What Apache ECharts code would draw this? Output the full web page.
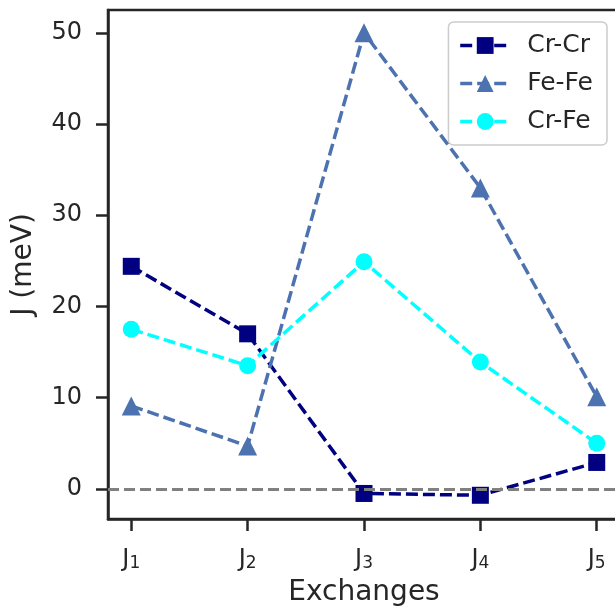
<!DOCTYPE html>
<html>
<head>
<meta charset="utf-8">
<script src="https://cdn.jsdelivr.net/npm/echarts@6/dist/echarts.min.js"></script>
<style>
  html, body { margin: 0; padding: 0; background: #fff; }
  #chart { width: 615px; height: 606px; }
</style>
</head>
<body>
<div id="chart"></div>
<script>
// Exchange couplings J1..J5 (meV)
const categories = ['1', '2', '3', '4', '5'];
const crCr = [24.4, 17.0, -0.5, -0.7, 2.9];
const feFe = [9.1, 4.7, 50.0, 33.0, 10.1];
const crFe = [17.5, 13.5, 24.9, 13.9, 5.0];
const yTicks = [0, 10, 20, 30, 40, 50];

const ink = '#262626';
const font = 'DejaVu Sans';

function pairs(values) {
  return values.map((v, i) => [i, v]);
}

function lineSeries(name, values, color, symbol, size) {
  return {
    name: name,
    type: 'line',
    data: pairs(values),
    z: 3,
    symbol: symbol,
    symbolSize: size,
    itemStyle: { color: color },
    lineStyle: { color: color, width: 3.5, type: [12, 5] },
    emphasis: { disabled: true }
  };
}

const chart = echarts.init(document.getElementById('chart'), null, { renderer: 'canvas' });
chart.setOption({
  animation: false,
  textStyle: { fontFamily: font, color: ink },
  grid: {
    left: 108, top: 10, right: -5, bottom: 87,
    outerBoundsMode: 'none',
    containLabel: false,
    show: true, borderColor: ink, borderWidth: 2.5, backgroundColor: 'transparent'
  },
  xAxis: {
    type: 'value',
    min: -0.2, max: 4.2,
    name: 'Exchanges',
    nameLocation: 'middle',
    nameGap: 60,
    nameTextStyle: { fontSize: 28, color: ink, fontFamily: font },
    splitLine: { show: false },
    axisLine: { onZero: false, lineStyle: { color: ink, width: 2.5 } },
    axisTick: { length: 12, lineStyle: { color: ink, width: 2.5 }, customValues: [0, 1, 2, 3, 4] },
    axisLabel: {
      customValues: [0, 1, 2, 3, 4],
      margin: 28,
      formatter: v => '{m|J}{s|' + categories[Math.round(v)] + '}',
      rich: {
        m: { fontSize: 24, color: ink, fontFamily: font },
        s: { fontSize: 17, color: ink, fontFamily: font, verticalAlign: 'bottom', padding: [8, 0, 0, 0] }
      }
    }
  },
  yAxis: {
    type: 'value',
    min: -3.3, max: 52.5,
    name: 'J (meV)',
    nameLocation: 'middle',
    nameGap: 70,
    nameRotate: 90,
    nameTextStyle: { fontSize: 28, color: ink, fontFamily: font },
    splitLine: { show: false },
    axisLine: { show: true, onZero: false, lineStyle: { color: ink, width: 2.5 } },
    axisTick: { show: true, length: 12, lineStyle: { color: ink, width: 2.5 }, customValues: yTicks },
    axisLabel: { customValues: yTicks, margin: 26, fontSize: 24, color: ink, fontFamily: font }
  },
  legend: {
    data: ['Cr-Cr', 'Fe-Fe', 'Cr-Fe'],
    orient: 'vertical',
    right: 8, top: 22,
    itemWidth: 50, itemHeight: 21,
    itemGap: 13,
    padding: [11, 14, 11, 10],
    borderColor: '#cccccc', borderWidth: 1.5, borderRadius: 5,
    backgroundColor: 'rgba(255,255,255,0.8)',
    lineStyle: { width: 3.5 },
    textStyle: { fontSize: 25, color: ink, fontFamily: font, padding: [0, 0, 0, 12] }
  },
  series: [
    {
      name: 'zero',
      type: 'line',
      data: [],
      z: 1,
      silent: true,
      markLine: {
        silent: true,
        symbol: 'none',
        label: { show: false },
        lineStyle: { color: '#808080', width: 3, type: [11, 5] },
        data: [{ yAxis: 0 }]
      }
    },
    lineSeries('Cr-Cr', crCr, '#000080', 'rect', 17),
    lineSeries('Fe-Fe', feFe, '#4c72b0', 'triangle', 19),
    lineSeries('Cr-Fe', crFe, '#00ffff', 'circle', 17)
  ]
});
</script>
</body>
</html>
